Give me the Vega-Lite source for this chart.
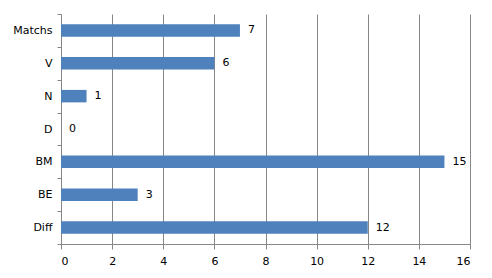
{
  "$schema": "https://vega.github.io/schema/vega-lite/v6.json",
  "width": 409,
  "height": 230,
  "autosize": {"type": "none"},
  "padding": {"left": 61, "top": 14, "right": 22, "bottom": 34},
  "background": "white",
  "data": {"values": [
    {"cat": "Matchs", "val": 7},
    {"cat": "V", "val": 6},
    {"cat": "N", "val": 1},
    {"cat": "D", "val": 0},
    {"cat": "BM", "val": 15},
    {"cat": "BE", "val": 3},
    {"cat": "Diff", "val": 12}
  ]},
  "encoding": {
    "y": {"field": "cat", "type": "nominal", "sort": null,
      "scale": {"paddingInner": 0, "paddingOuter": 0},
      "axis": {"title": null, "domainColor": "#868686", "tickColor": "#868686", "tickSize": 4, "tickBand": "extent",
        "labelFont": "DejaVu Sans", "labelFontSize": 11, "labelColor": "#000000", "labelPadding": 5}},
    "x": {"field": "val", "type": "quantitative",
      "scale": {"domain": [0, 16], "nice": false},
      "axis": {"title": null, "values": [0,2,4,6,8,10,12,14,16], "grid": true, "gridColor": "#868686",
        "domainColor": "#868686", "tickColor": "#868686", "tickSize": 5,
        "labelFont": "DejaVu Sans", "labelFontSize": 11, "labelColor": "#000000", "labelPadding": 6}}
  },
  "layer": [
    {"mark": {"type": "bar", "color": "#4F81BD", "height": {"band": 0.38}}},
    {"mark": {"type": "text", "align": "left", "dx": 8, "font": "DejaVu Sans", "fontSize": 11, "color": "#000000"},
     "encoding": {"text": {"field": "val", "type": "quantitative"}}}
  ],
  "config": {"view": {"stroke": null}}
}
